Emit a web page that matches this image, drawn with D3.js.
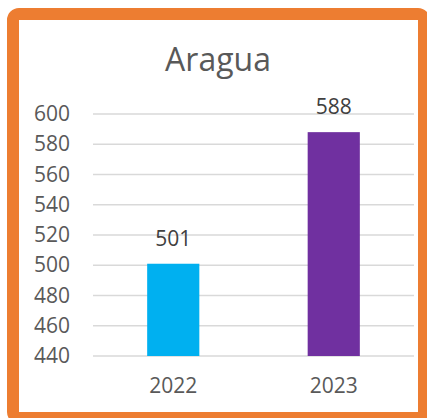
<!DOCTYPE html>
<html lang="en">
<head>
  <meta charset="UTF-8" />
  <title>Aragua</title>
  <script src="https://d3js.org/d3.v7.min.js"></script>
  <style>
    body { margin: 0; background: #fff; }
    svg { display: block; font-family: "Open Sans", sans-serif; }
  </style>
</head>
<body>
  <svg id="chart" width="427" height="418"></svg>
  <script>
    // Chart data
    const years = ["2022", "2023"];
    const values = [501, 588];
    const barColors = ["#00B0F0", "#7030A0"];
    const yTicks = [440, 460, 480, 500, 520, 540, 560, 580, 600];

    const svg = d3.select("#chart");
    const plot = { left: 93, right: 414, top: 114, bottom: 356 };

    // Orange frame
    svg.append("rect")
      .attr("x", 13).attr("y", 14)
      .attr("width", 411).attr("height", 404)
      .attr("rx", 6)
      .attr("fill", "#fff")
      .attr("stroke", "#ED7D31")
      .attr("stroke-width", 12);

    const x = d3.scaleBand()
      .domain(years)
      .range([plot.left, plot.right])
      .padding(0);

    const y = d3.scaleLinear()
      .domain([440, 600])
      .range([plot.bottom, plot.top]);

    // Gridlines
    svg.append("g")
      .selectAll("line")
      .data(yTicks)
      .join("line")
      .attr("x1", plot.left)
      .attr("x2", plot.right)
      .attr("y1", d => y(d))
      .attr("y2", d => y(d))
      .attr("stroke", "#D9D9D9")
      .attr("stroke-width", 1.5);

    // Y axis labels
    svg.append("g")
      .attr("transform", `translate(${plot.left}, 0)`)
      .call(d3.axisLeft(y).tickValues(yTicks).tickSize(0).tickPadding(23))
      .call(g => g.select(".domain").remove())
      .call(g => g.selectAll("text")
        .attr("font-size", "21px")
        .attr("font-family", "Open Sans, sans-serif")
        .attr("fill", "#595959"));

    // Bars
    const barW = x.bandwidth() * 0.325;
    svg.append("g")
      .selectAll("rect")
      .data(years)
      .join("rect")
      .attr("x", d => x(d) + x.bandwidth() / 2 - barW / 2)
      .attr("y", (d, i) => y(values[i]))
      .attr("width", barW)
      .attr("height", (d, i) => y(440) - y(values[i]))
      .attr("fill", (d, i) => barColors[i]);

    // Value labels
    svg.append("g")
      .selectAll("text")
      .data(years)
      .join("text")
      .attr("x", d => x(d) + x.bandwidth() / 2)
      .attr("y", (d, i) => y(values[i]) - 18)
      .attr("text-anchor", "middle")
      .attr("font-size", "21px")
      .attr("fill", "#404040")
      .text((d, i) => values[i]);

    // X axis labels
    svg.append("g")
      .attr("transform", `translate(0, ${plot.bottom})`)
      .call(d3.axisBottom(x).tickSize(0).tickPadding(22))
      .call(g => g.select(".domain").remove())
      .call(g => g.selectAll("text")
        .attr("font-size", "21px")
        .attr("font-family", "Open Sans, sans-serif")
        .attr("fill", "#595959"));

    // Title
    svg.append("text")
      .attr("x", 218)
      .attr("y", 71)
      .attr("text-anchor", "middle")
      .attr("font-size", "32px")
      .attr("fill", "#595959")
      .text("Aragua");
  </script>
</body>
</html>
